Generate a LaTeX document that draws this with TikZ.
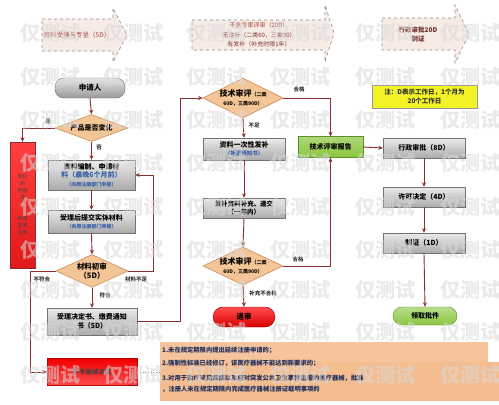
\documentclass[tikz,border=0pt]{standalone}
\usepackage{fontspec}
\setmainfont{Noto Sans CJK SC}
\usetikzlibrary{shapes.geometric,arrows.meta}
\definecolor{ln}{HTML}{8B2E2E}
\definecolor{dialine}{HTML}{C98D5A}
\definecolor{diafill}{HTML}{F4C596}
\definecolor{arrowfill}{HTML}{F7ECE5}
\definecolor{redtxt}{HTML}{A0403A}
\definecolor{hintblue}{HTML}{3A5FA8}
\definecolor{notefill}{HTML}{F5C49C}
\definecolor{notefillb}{HTML}{F3BD90}
\definecolor{notetxt}{HTML}{1F2F5F}
\definecolor{greenfill}{HTML}{8CC63F}
\definecolor{greenline}{HTML}{5A8F2A}
\definecolor{yellowfill}{HTML}{F2F226}
\definecolor{redfill}{HTML}{E01818}
\begin{document}
\begin{tikzpicture}[x=1pt,y=-1pt,
  conn/.style={draw=ln, line width=0.9pt, -{Stealth[length=4.5pt,width=4pt]}},
  gbox/.style={rectangle, draw=black!55, top color=black!8, bottom color=black!33, align=center, inner sep=1pt, font=\fontsize{7}{8.5}\selectfont\bfseries},
  dia/.style={diamond, draw=dialine, fill=diafill, line width=0.6pt, inner sep=0pt},
  diatext/.style={align=center, inner sep=0pt, font=\fontsize{7}{8.5}\selectfont\bfseries},
  lab/.style={font=\fontsize{5.5}{6}\selectfont\bfseries, text=black!80, inner sep=1pt},
  darrow/.style={draw=black!45, dashed, fill=arrowfill, line width=0.6pt},
  wm/.style={font=\fontsize{20}{20}\selectfont\bfseries, text=black!15, opacity=0.55},
  pill/.style={rounded corners=9pt, align=center, font=\fontsize{7.5}{9}\selectfont\bfseries},
  notetext/.style={anchor=west, font=\fontsize{6.3}{7}\selectfont\bfseries, text=notetxt, inner sep=0pt}
]
\useasboundingbox (0,0) rectangle (499,405);
\fill[white] (0,0) rectangle (499,405);

% ---- top dashed arrows ----
\path[darrow] (42,19) -- (113,19) -- (113,8) -- (127,35) -- (113,62) -- (113,51) -- (42,51) -- cycle;
\node[font=\fontsize{6.5}{8}\selectfont, text=redtxt] (t1) at (77,35) {资料受理与专呈（5D）};
\path[darrow] (192,20) -- (325,20) -- (325,5) -- (334,33) -- (325,62) -- (325,50) -- (192,50) -- cycle;
\node[font=\fontsize{6}{9.5}\selectfont, align=center, text=redtxt!80!black] (t2) at (259,35)
  {\textcolor{redtxt}{不含专家评审（20D）}\\无注补（二类60，三类90）\\有发补（补充时限1年）};
\path[darrow] (382,18) -- (455,18) -- (455,5) -- (469,34) -- (455,63) -- (455,50) -- (382,50) -- cycle;
\node[font=\fontsize{6.5}{9}\selectfont\bfseries, align=center, text=redtxt!70!black] (t3) at (418,34) {行政审批20D\\制证};

% ---- yellow note ----
\node[draw=black!40, fill=yellowfill, minimum width=105pt, minimum height=23pt, align=center,
  font=\fontsize{6.5}{9}\selectfont\bfseries, text=black!80] (yel) at (424.5,96.5)
  {注：D表示工作日，1个月为\\20个工作日};

% ---- left column ----
\node[pill, draw=black!60, top color=black!10, bottom color=black!40, minimum width=70pt, minimum height=20pt] (app) at (90,88) {申请人};
\node[dia, minimum width=73pt, minimum height=27pt] (d1) at (91.5,128) {};
\node[diatext] at (d1) {产品是否变化};
\node[rectangle, draw=ln, top color=red!75, bottom color=redfill, minimum width=25pt, minimum height=126pt,
  align=center, font=\fontsize{5}{7}\selectfont, text=black!75] (lred) at (22.5,205)
  {变化\\的\\内容\\须\\[14pt]申请\\变更\\注册};
\node[gbox, minimum width=87pt, minimum height=30pt] (b1) at (91.5,175)
  {资料编制、申请材\\\textcolor{hintblue}{料（最晚6个月前）}\\{\fontsize{5}{6}\selectfont\textcolor{hintblue}{（向原注册部门申报）}}};
\node[gbox, minimum width=87pt, minimum height=23pt] (b2) at (91.5,221.5)
  {受理后提交实体材料\\{\fontsize{5}{6}\selectfont\textcolor{hintblue}{（向原注册部门申报）}}};
\node[dia, minimum width=72pt, minimum height=33pt] (d2) at (92,271) {};
\node[diatext, font=\fontsize{7.5}{9}\selectfont\bfseries] at (d2) {材料初审\\（5D）};
\node[gbox, minimum width=90pt, minimum height=27pt] (b3) at (92,321.5) {受理决定书、缴费通知\\书（5D）};
\node[rectangle, draw=red!70!black, top color=red!95!black, bottom color=red!70, minimum width=90pt, minimum height=27pt,
  font=\fontsize{6.5}{8}\selectfont\bfseries, text=black!75] (red2) at (92,372) {不予延续决定};

% ---- middle column ----
\node[dia, minimum width=80pt, minimum height=40pt] (d3) at (243,98) {};
\node[diatext] at (d3) {{\fontsize{8}{9}\selectfont 技术审评}{\fontsize{5}{6}\selectfont（二类}\\{\fontsize{5}{6}\selectfont 60D，三类90D）}};
\node[gbox, minimum width=82pt, minimum height=22pt] (b4) at (244,149)
  {资料一次性发补\\{\fontsize{5.5}{6.5}\selectfont\textcolor{hintblue}{（补正通知书）}}};
\node[gbox, minimum width=82pt, minimum height=20pt, font=\fontsize{6.5}{7.5}\selectfont\bfseries] (b5) at (244,208) {发补资料补充、递交\\（一年内）};
\node[dia, minimum width=80pt, minimum height=38pt] (d4) at (243,266) {};
\node[diatext] at (d4) {{\fontsize{8}{9}\selectfont 技术审评}{\fontsize{5}{6}\selectfont（二类}\\{\fontsize{5}{6}\selectfont 60D，三类90D）}};
\node[pill, draw=red!60!black, top color=red!70, bottom color=red!85!black, minimum width=62pt, minimum height=20pt, rounded corners=10pt] (tui) at (244,317) {退审};
\node[rectangle, draw=greenline, top color=greenfill!70, bottom color=greenfill, minimum width=65pt, minimum height=21pt,
  font=\fontsize{7}{8}\selectfont\bfseries] (grn) at (330.5,147) {技术评审报告};

% ---- right column ----
\node[gbox, minimum width=82pt, minimum height=20pt] (r1) at (424,148) {行政审批（8D）};
\node[gbox, minimum width=82pt, minimum height=20pt] (r2) at (424,197) {许可决定（4D）};
\node[gbox, minimum width=82pt, minimum height=20pt] (r3) at (424,243) {制证（1D）};
\node[pill, draw=greenline, top color=greenfill!60, bottom color=greenfill, minimum width=64pt, minimum height=18pt, font=\fontsize{7}{8}\selectfont\bfseries] (lq) at (425,316) {领取批件};

% ---- notes ----
\node[rectangle, fill=notefill, minimum width=328pt, minimum height=58pt, inner sep=0pt] (notes) at (324,371) {};
\fill[notefillb] (160,362) rectangle (499,401);
\node[notetext] (n1) at (162,350) {1.未在规定期限内提出延续注册申请的；};
\node[notetext] (n2) at (162,363) {2.强制性标准已经修订，该医疗器械不能达到新要求的；};
\node[notetext] (n3) at (162,378) {3.对用于治疗罕见疾病以及应对突发公共卫生事件急需的医疗器械，批准};
\node[notetext] (n4) at (162,389) {，注册人未在规定期限内完成医疗器械注册证载明事项的};

% ---- connectors ----
\draw[conn] (app.south) -- (d1.north);
\draw[conn] (d1.west) -| (lred.north);
\node[lab] at (48,121) {是};
\draw[conn] (d1.south) -- (b1.north);
\node[lab] at (99,148) {否};
\draw[conn] (b1.south) -- (b2.north);
\draw[conn] (b2.south) -- (d2.north);
\draw[conn] (d2.south) -- (b3.north);
\node[lab] at (105,295) {符合};
\coordinate (c1) at (30,271);
\draw[conn] (d2.west) -- (c1) |- (red2.west);
\node[lab] at (42,279) {不符合};
\coordinate (c2) at (153,271);
\draw[conn] (d2.east) -- (c2) |- (b1.east);
\node[lab] at (136,279) {材料不足};
\coordinate (c3) at (180,321.5);
\draw[conn] (b3.east) -- (c3) |- (d3.west);
\draw[conn] (d3.south) -- (b4.north);
\node[lab] at (254,126) {不足};
\draw[conn] (d3.east) -| (grn.north);
\node[lab] at (299,89) {合格};
\draw[conn] (b4.south) -- (b5.north);
\draw[conn] (b5.south) -- (d4.north);
\draw[conn] (d4.south) -- (tui.north);
\node[lab] at (263,293) {补充不合格};
\draw[conn] (d4.east) -| (grn.south);
\node[lab] at (298,259) {合格};
\draw[conn] (grn.east) -- (r1.west);
\draw[conn] (r1.south) -- (r2.north);
\draw[conn] (r2.south) -- (r3.north);
\draw[conn] (r3.south) -- (lq.north);
\draw[black!45, dotted, line width=0.7pt] (red2.east) -- (red2.east -| notes.west);

% ---- watermark ----
\foreach \yy in {33,77,120,163,207,250,290,332,375} {
  \foreach \xx in {50,133,216,300,385,470} {
    \node[wm] at (\xx,\yy) {仅测试};
  }
}
\end{tikzpicture}
\end{document}
